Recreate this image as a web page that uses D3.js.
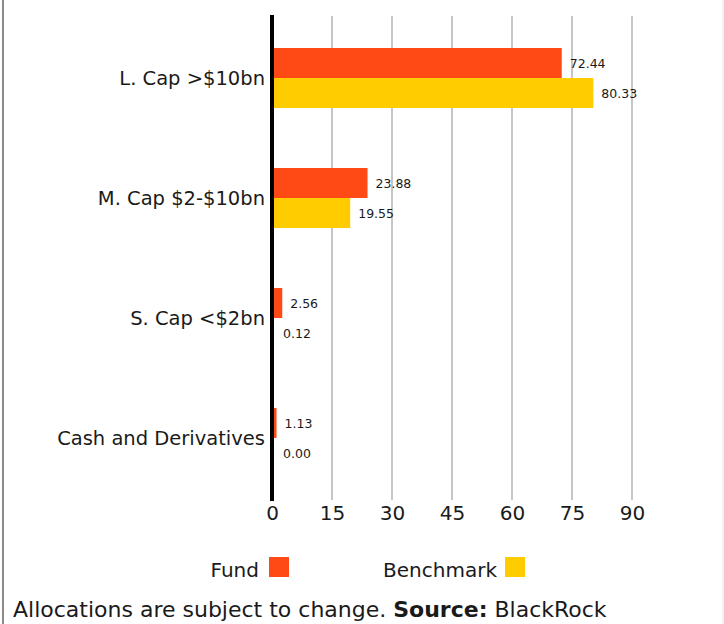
<!DOCTYPE html>
<html lang="en">
<head>
  <meta charset="UTF-8" />
  <title>Market Cap Allocation</title>
  <script src="https://d3js.org/d3.v7.min.js"></script>
  <style>
    html,body{margin:0;padding:0;background:#fff}
    body{width:724px;height:624px;overflow:hidden;font-family:"DejaVu Sans",sans-serif;color:#1a1a1a}
    svg text{font-family:"DejaVu Sans",sans-serif}
  </style>
</head>
<body>
  <div id="chart"></div>
  <script>
    const categories = ["L. Cap >$10bn", "M. Cap $2-$10bn", "S. Cap <$2bn", "Cash and Derivatives"];
    const series = ["Fund", "Benchmark"];
    const fundValues = [72.44, 23.88, 2.56, 1.13];
    const benchValues = [80.33, 19.55, 0.12, 0.00];
    const xTicks = [0, 15, 30, 45, 60, 75, 90];

    const FUND = "#ff4a16";
    const BENCH = "#ffcc00";
    const W = 724, H = 624;

    const svg = d3.select("#chart").append("svg").attr("width", W).attr("height", H);

    // frame
    svg.append("line").attr("x1", 3).attr("x2", 3).attr("y1", 0).attr("y2", H).attr("stroke", "#8a8a8a").attr("stroke-width", 2);
    svg.append("line").attr("x1", 723).attr("x2", 723).attr("y1", 0).attr("y2", H).attr("stroke", "#e6e6e6").attr("stroke-width", 1);

    const x = d3.scaleLinear().domain([0, 90]).range([272, 632]);
    const y = d3.scaleBand().domain(categories).range([18, 498]).paddingInner(0.5).paddingOuter(0.25);
    const ySub = d3.scaleBand().domain(series).range([0, y.bandwidth()]);

    // gridlines
    svg.append("g").selectAll("line").data(xTicks.filter(d => d > 0)).enter().append("line")
      .attr("x1", d => x(d)).attr("x2", d => x(d))
      .attr("y1", 16).attr("y2", 500)
      .attr("stroke", "#c6c6c6").attr("stroke-width", 2);

    const rows = categories.map((c, i) => ({cat: c, vals: [fundValues[i], benchValues[i]]}));

    const g = svg.append("g").selectAll("g").data(rows).enter().append("g")
      .attr("transform", d => `translate(0,${y(d.cat)})`);

    g.selectAll("rect").data(d => d.vals.map((v, i) => ({s: series[i], v}))).enter().append("rect")
      .attr("x", x(0)).attr("y", d => ySub(d.s))
      .attr("width", d => x(d.v) - x(0)).attr("height", ySub.bandwidth())
      .attr("fill", d => d.s === "Fund" ? FUND : BENCH);

    g.selectAll("text.val").data(d => d.vals.map((v, i) => ({s: series[i], v}))).enter().append("text")
      .attr("class", "val")
      .attr("x", d => Math.max(x(d.v), x(0) + 3) + 8)
      .attr("y", d => ySub(d.s) + ySub.bandwidth() / 2 + 5)
      .attr("font-size", 12.5).attr("fill", "#1a1a1a")
      .text(d => d.v.toFixed(2));

    // category labels
    svg.append("g").selectAll("text").data(categories).enter().append("text")
      .attr("x", 265).attr("y", d => y(d) + y.bandwidth() / 2 + 7)
      .attr("text-anchor", "end").attr("font-size", 19.5).attr("fill", "#1a1a1a")
      .text(d => d);

    // x axis
    const xAxis = svg.append("g").attr("transform", "translate(0,500)")
      .call(d3.axisBottom(x).tickValues(xTicks).tickSize(0).tickPadding(6));
    xAxis.select(".domain").remove();
    xAxis.selectAll("text").attr("font-size", 20).attr("fill", "#1a1a1a");

    // zero line
    svg.append("line").attr("x1", x(0)).attr("x2", x(0)).attr("y1", 15).attr("y2", 501)
      .attr("stroke", "#000").attr("stroke-width", 4);

    // legend
    const legend = [
      {name: "Fund", color: FUND, tx: 259, rx: 269},
      {name: "Benchmark", color: BENCH, tx: 497, rx: 505}
    ];
    const lg = svg.append("g").selectAll("g").data(legend).enter().append("g");
    lg.append("text").attr("x", d => d.tx).attr("y", 577).attr("text-anchor", "end")
      .attr("font-size", 20).attr("fill", "#1a1a1a").text(d => d.name);
    lg.append("rect").attr("x", d => d.rx).attr("y", 557).attr("width", 20).attr("height", 20)
      .attr("fill", d => d.color);

    // footnote
    const foot = svg.append("text").attr("x", 13).attr("y", 617).attr("font-size", 22).attr("fill", "#1a1a1a");
    foot.append("tspan").text("Allocations are subject to change. ");
    foot.append("tspan").attr("font-weight", 700).text("Source:");
    foot.append("tspan").text(" BlackRock");
  </script>
</body>
</html>
